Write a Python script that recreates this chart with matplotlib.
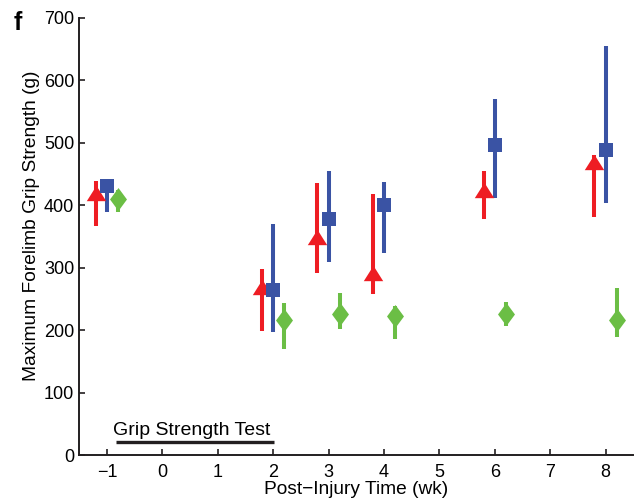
import numpy as np
import matplotlib
matplotlib.use('Agg')
import matplotlib.pyplot as plt
from matplotlib.path import Path

plt.rcParams['font.family'] = ['Liberation Sans', 'DejaVu Sans']

weeks = [-1, 2, 3, 4, 6, 8]

# red triangles
red_mean = [420, 270, 349, 291, 424, 469]
red_lo = [367, 199, 291, 258, 378, 381]
red_hi = [439, 298, 436, 418, 455, 480]

# blue squares
blue_mean = [431, 265, 378, 400, 496, 488]
blue_lo = [390, 198, 309, 323, 411, 404]
blue_hi = [440, 370, 455, 437, 570, 655]

# green diamonds
green_mean = [410, 216, 226, 223, 226, 216]
green_lo = [390, 170, 202, 186, 207, 190]
green_hi = [425, 243, 260, 239, 245, 268]

red = '#EE1D23'
blue = '#3A53A4'
green = '#6BBE45'

tri = Path([(-1, -0.79), (1, -0.79), (0, 0.79), (-1, -0.79)],
           [Path.MOVETO, Path.LINETO, Path.LINETO, Path.CLOSEPOLY])
dia = Path([(0, 1), (0.74, 0), (0, -1), (-0.74, 0), (0, 1)],
           [Path.MOVETO, Path.LINETO, Path.LINETO, Path.LINETO, Path.CLOSEPOLY])

fig = plt.figure(figsize=(6.39, 5.01), dpi=100)
ax = fig.add_axes([0.124, 0.0912, 0.867, 0.8733])

w = np.array(weeks, dtype=float)
series = [
    (w - 0.2, red_mean, red_lo, red_hi, red, tri, 14),
    (w, blue_mean, blue_lo, blue_hi, blue, 's', 10),
    (w + 0.2, green_mean, green_lo, green_hi, green, dia, 16.5),
]
for x, m, lo, hi, c, mk, ms in series:
    ax.vlines(x, lo, hi, color=c, lw=2.9, zorder=2)
    ax.plot(x, m, linestyle='none', marker=mk, markersize=ms, color=c,
            markeredgewidth=0, zorder=3)

# grip strength test period
ax.plot([-0.83, 2.02], [22, 22], color='#231F20', lw=2.4, solid_capstyle='butt')
ax.text(-0.89, 33, 'Grip Strength Test', fontsize=14, ha='left', va='baseline')

ax.set_xlim(-1.5, 8.5)
ax.set_ylim(0, 700)
ax.set_xticks(range(-1, 9))
ax.set_xticklabels([str(t).replace('-', '\u2212') for t in range(-1, 9)])
ax.set_yticks(range(0, 701, 100))
ax.spines['top'].set_visible(False)
ax.spines['right'].set_visible(False)
for s in ['left', 'bottom']:
    ax.spines[s].set_linewidth(1.4)
    ax.spines[s].set_color('#231F20')
ax.tick_params(direction='in', length=4, width=1.2, labelsize=13, color='#231F20')
ax.tick_params(axis='x', pad=6)
ax.set_xlabel('Post\u2212Injury Time (wk)', fontsize=13.8, labelpad=0)
ax.set_ylabel('Maximum Forelimb Grip Strength (g)', fontsize=13.8)
ax.yaxis.set_label_coords(-0.07, 0.524)

fig.text(0.022, 0.955, 'f', fontsize=18, fontweight='bold', ha='left', va='center')

fig.savefig('out.png', dpi=100)
